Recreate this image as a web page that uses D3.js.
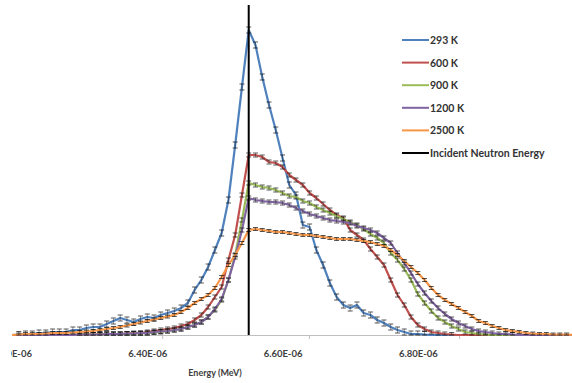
<!DOCTYPE html>
<html>
<head>
<meta charset="utf-8">
<script src="https://cdn.jsdelivr.net/npm/d3@7"></script>
<style>
  body { margin: 0; background: #fff; }
  svg { display: block; font-family: Lato, "Open Sans", sans-serif; }
</style>
</head>
<body>
<div id="chart"></div>
<script>
// Energy bin centres, in units of 1e-6 MeV
const energy = [
  6.20, 6.21, 6.22, 6.23, 6.24, 6.25, 6.26, 6.27, 6.28, 6.29,
  6.30, 6.31, 6.32, 6.33, 6.34, 6.35, 6.36, 6.37, 6.38, 6.39,
  6.40, 6.41, 6.42, 6.43, 6.44, 6.45, 6.46, 6.47, 6.48, 6.49,
  6.50, 6.51, 6.52, 6.53, 6.54, 6.55, 6.56, 6.57, 6.58, 6.59,
  6.60, 6.61, 6.62, 6.63, 6.64, 6.65, 6.66, 6.67, 6.68, 6.69,
  6.70, 6.71, 6.72, 6.73, 6.74, 6.75, 6.76, 6.77, 6.78, 6.79,
  6.80, 6.81, 6.82, 6.83, 6.84, 6.85, 6.86, 6.87, 6.88, 6.89,
  6.90, 6.91, 6.92, 6.93, 6.94, 6.95, 6.96, 6.97, 6.98, 6.99,
  7.00, 7.01, 7.02, 7.03
];

// relative flux (arbitrary units), one value per bin
const flux293 = [
  0, 0.5, 1, 1, 2, 2, 3, 3, 3, 5,
  5, 7, 8, 8, 11, 14, 17, 15, 13, 16,
  18, 17, 20, 22, 24, 27, 32, 45, 55, 68,
  85, 102, 135, 190, 248, 305, 290, 258, 230, 205,
  177, 150, 140, 110, 108, 85, 70, 52, 38, 30,
  27, 30, 22, 20, 15, 12, 8, 5, 3, 1,
  1, 0.5, 0, 0, 0, 0, 0, 0, 0, 0,
  0, 0, 0, 0, 0, 0, 0, 0, 0, 0,
  0, 0, 0, 0
];
const flux600 = [
  0, 0, 0, 0, 0, 0, 0, 0, 0, 0,
  0.5, 0.5, 0.5, 1, 1, 1, 1, 1.5, 2, 2,
  3, 4, 5, 6, 7, 9, 11, 15, 20, 28,
  38, 48, 75, 100, 140, 180, 180, 178, 173, 172,
  168, 160, 155, 150, 142, 137, 131, 125, 120, 117,
  105, 100, 95, 86, 78, 70, 55, 40, 30, 18,
  10, 6, 3, 2, 1, 0.5, 0, 0, 0, 0,
  0, 0, 0, 0, 0, 0, 0, 0, 0, 0,
  0, 0, 0, 0
];
const flux900 = [
  0, 0, 0, 0, 0, 0, 0, 0, 0, 0,
  0.5, 0.5, 0.5, 0.5, 1, 1, 1, 1, 1.5, 1.5,
  2, 2.5, 3, 4, 5, 6, 8, 10, 13, 18,
  25, 35, 55, 80, 115, 152, 150, 148, 147, 145,
  142, 139, 138, 134, 132, 128, 125, 122, 119, 116,
  113, 110, 106, 101, 97, 92, 82, 75, 66, 55,
  41, 32, 24, 17, 13, 9, 6, 3, 2, 1,
  0.5, 0, 0, 0, 0, 0, 0, 0, 0, 0,
  0, 0, 0, 0
];
const flux1200 = [
  0, 0, 0, 0, 0, 0, 0, 0, 0, 0,
  0.5, 0.5, 0.5, 0.5, 1, 1, 1, 1.5, 1.5, 2,
  2, 3, 3.5, 4, 5, 6, 8, 10, 13, 18,
  26, 36, 55, 78, 105, 137, 135, 134, 133, 133,
  132, 130, 127, 124, 121, 119, 117, 115, 114, 113,
  112, 109, 107, 105, 102, 97, 92, 82, 72, 62,
  51, 42, 34, 27, 21, 16, 12, 9, 6, 4,
  3, 2, 1, 1, 0.5, 0, 0, 0, 0, 0,
  0, 0, 0, 0
];
const flux2500 = [
  0, 0.5, 1, 1, 1, 1.5, 2, 2, 2, 2.5,
  3, 3.5, 4, 5, 6, 7, 8, 9.5, 11, 12.5,
  14, 15.5, 17, 18.5, 20, 23, 27, 32, 36, 40,
  47, 58, 70, 80, 92, 105, 106, 105, 104, 103,
  103, 102, 101, 100, 100, 99, 98, 97, 96, 96,
  96, 95, 94, 93, 91, 89, 85, 80, 74, 68,
  62, 55, 47, 40, 35, 31, 27, 23, 19, 14,
  12, 9, 7, 5, 4, 3, 2, 1.5, 1, 1,
  0.5, 0.5, 0.5, 0
];

const seriesNames = ['293 K', '600 K', '900 K', '1200 K', '2500 K'];
const seriesValues = [flux293, flux600, flux900, flux1200, flux2500];
const seriesErr = [3, 2, 2, 2, 1.5];
const seriesColors = ['#4f81bd', '#c0504d', '#9bbb59', '#8064a2', '#f79646'];

const incidentEnergy = 6.55;
const labelTicks = [6.2, 6.4, 6.6, 6.8];
const markTicks = [6.422, 6.639, 6.861];

const width = 572, height = 383;
const plot = { left: 12, right: 572, top: 5, bottom: 335 };

const svg = d3.select('#chart').append('svg')
  .attr('width', width)
  .attr('height', height);

const x = d3.scaleLinear()
  .domain([6.2, 7.028])
  .range([plot.left, plot.right]);

const y = d3.scaleLinear()
  .domain([0, 330])
  .range([plot.bottom, plot.top]);

svg.append('clipPath').attr('id', 'clip')
  .append('rect')
  .attr('x', plot.left).attr('y', 0)
  .attr('width', plot.right - plot.left).attr('height', plot.bottom + 1);

// the chart area cuts the first label, as in the original
svg.append('clipPath').attr('id', 'labelclip')
  .append('rect')
  .attr('x', 11).attr('y', plot.bottom)
  .attr('width', width).attr('height', 40);

// x axis line + tick marks
const axisG = svg.append('g')
  .attr('transform', `translate(0,${plot.bottom})`)
  .call(d3.axisBottom(x).tickValues(markTicks).tickFormat('').tickSize(4).tickSizeOuter(0));
axisG.selectAll('path, line').attr('stroke', '#bfbfbf');

// tick labels
const fmt = v => {
  const s = (v * 1e-6).toExponential(2).toUpperCase();
  const [m, e] = s.split('E');
  const n = +e;
  return m + 'E' + (n < 0 ? '-' : '+') + String(Math.abs(n)).padStart(2, '0');
};
const labelG = svg.append('g')
  .attr('clip-path', 'url(#labelclip)')
  .append('g')
  .attr('transform', `translate(0,${plot.bottom})`)
  .call(d3.axisBottom(x).tickValues(labelTicks).tickFormat(fmt).tickSize(0).tickPadding(15));
labelG.select('.domain').remove();
labelG.selectAll('text')
  .attr('font-family', 'Lato, sans-serif')
  .attr('font-size', 9.5)
  .attr('font-weight', 'bold')
  .attr('fill', '#404040');

svg.append('text')
  .attr('x', 215)
  .attr('y', 376)
  .attr('text-anchor', 'middle')
  .attr('font-size', 9)
  .attr('font-weight', 'bold')
  .attr('fill', '#404040')
  .text('Energy (MeV)');

const plotG = svg.append('g').attr('clip-path', 'url(#clip)');

const line = d3.line()
  .x((d, i) => x(energy[i]))
  .y(d => y(d));

seriesValues.forEach((vals, k) => {
  const g = plotG.append('g');
  g.append('path')
    .datum(vals)
    .attr('fill', 'none')
    .attr('stroke', seriesColors[k])
    .attr('stroke-width', 2.2)
    .attr('stroke-linejoin', 'round')
    .attr('d', line);

  // error bars
  const pts = vals.map((v, i) => ({ e: energy[i], v })).filter(d => d.v > 0);
  const err = seriesErr[k];
  g.selectAll('line.bar')
    .data(pts)
    .enter().append('line')
    .attr('x1', d => x(d.e)).attr('x2', d => x(d.e))
    .attr('y1', d => y(d.v + err)).attr('y2', d => y(Math.max(0, d.v - err)))
    .attr('stroke', '#222').attr('stroke-opacity', 0.6).attr('stroke-width', 0.8);
  g.selectAll('line.cap')
    .data(pts.flatMap(d => [d.v + err, Math.max(0, d.v - err)].map(c => ({ e: d.e, c }))))
    .enter().append('line')
    .attr('x1', d => x(d.e) - 2.5).attr('x2', d => x(d.e) + 2.5)
    .attr('y1', d => y(d.c)).attr('y2', d => y(d.c))
    .attr('stroke', '#111').attr('stroke-opacity', 0.7).attr('stroke-width', 1);
});

// incident neutron energy
plotG.append('line')
  .attr('x1', x(incidentEnergy)).attr('x2', x(incidentEnergy))
  .attr('y1', y(330)).attr('y2', y(0))
  .attr('stroke', '#000')
  .attr('stroke-width', 2);

// legend
const legendNames = seriesNames.concat(['Incident Neutron Energy']);
const legendColors = seriesColors.concat(['#000']);
const legend = svg.append('g').attr('transform', 'translate(402,40)');
legendNames.forEach((name, i) => {
  const row = legend.append('g').attr('transform', `translate(0,${i * 22.6})`);
  row.append('line')
    .attr('x1', 0).attr('x2', 27)
    .attr('stroke', legendColors[i])
    .attr('stroke-width', 2);
  row.append('text')
    .attr('x', 28)
    .attr('y', 4)
    .attr('font-size', 10.5)
    .attr('font-weight', 'bold')
    .attr('fill', '#333')
    .text(name);
});
</script>
</body>
</html>
